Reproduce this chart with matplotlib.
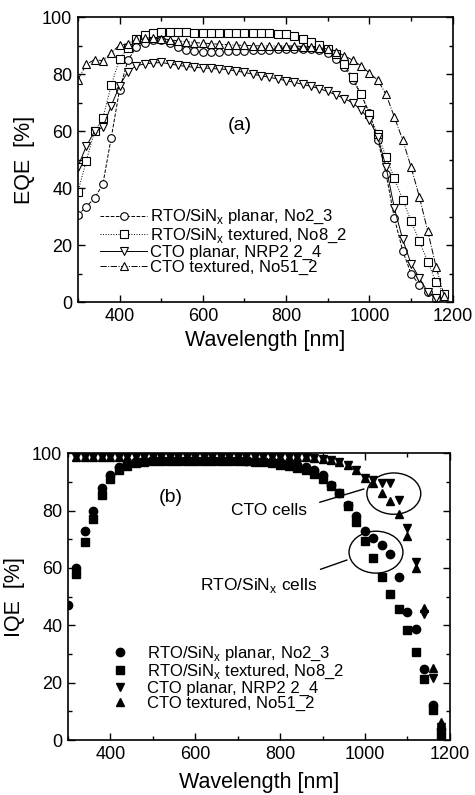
import numpy as np
import matplotlib
matplotlib.use("Agg")
import matplotlib.pyplot as plt
from matplotlib.patches import Ellipse
from matplotlib.ticker import MultipleLocator

plt.rcParams['font.family'] = ['Liberation Sans', 'DejaVu Sans']
plt.rcParams['mathtext.fontset'] = 'custom'
plt.rcParams['mathtext.rm'] = 'Liberation Sans'

# ---- data: wavelength grid [nm] ----
wl = np.arange(300, 1200, 20)   # 300 ... 1180

# (a) EQE [%]
eqe_rto_planar = [30.5, 33.5, 36.5, 41.5, 57.7, 74.6, 85, 89.5, 91, 92, 92, 91, 89.5, 88.5, 88.2,
                  88, 88, 88, 88.2, 88.3, 88.4, 88.5, 88.6, 88.7, 88.8, 88.9, 89, 89, 88.8, 88.5,
                  87.5, 85.5, 82.5, 78, 73, 66.5, 57, 45, 29.5, 18, 10, 6, 3.5, 1, np.nan]
eqe_rto_text = [38.7, 49.6, 60, 64.7, 76.2, 85.4, 89.3, 92.3, 93.9, 94.6, 95, 95, 95, 94.8, 94.7,
                94.6, 94.6, 94.6, 94.6, 94.6, 94.6, 94.5, 94.5, 94.4, 94.3, 94.2, 93.5, 92.5, 91.5, 90.5,
                89, 87, 83.5, 79, 73, 66, 59, 51, 43.5, 36, 28.5, 21.5, 14.2, 7, 3]
eqe_cto_planar = [47.6, 54.7, 60, 61.5, 69, 76, 81, 83, 83.7, 84, 84.2, 83.7, 83.2, 82.8, 82.5,
                  82.3, 82.1, 81.9, 81.7, 81.2, 80.7, 80.1, 79.5, 79, 78.4, 77.8, 77.2, 76.5, 75.8, 75,
                  74, 72.8, 71.5, 70, 67.5, 64, 58, 47.5, 33, 22, 13.5, 8.5, 3.5, 1.5, np.nan]
eqe_cto_text = [78.2, 83.5, 85.2, 84.8, 87.6, 90.3, 90.8, 92.3, 92.8, 92.8, 92.6, 92.2, 91.8, 91.5, 91.2,
                91, 90.8, 90.6, 90.4, 90.3, 90.2, 90.1, 90, 90, 90, 90, 90, 89.8, 89.6, 89.3,
                89, 88, 86.5, 85, 83, 80.5, 78, 73, 65, 57, 47.5, 37, 25, 12.5, 2]

# (b) IQE [%]
iqe_rto_planar = [47, 60, 73, 80, 88, 92.5, 95, 96.5, 97, 97.3, 97.5, 97.6, 97.6, 97.6, 97.6,
                  97.6, 97.6, 97.6, 97.6, 97.5, 97.5, 97.4, 97.3, 97.2, 97, 96.8, 96.5, 96, 95.3, 94.3,
                  92.3, 89, 86, 82, 78, 73, 70.4, 68, 64.8, 57, 44.6, 38.7, 24.7, 12.2, 4]
iqe_rto_text = [np.nan, 58, 69, 77, 85.5, 91, 94, 95.5, 96.5, 97, 97.3, 97.4, 97.4, 97.4, 97.4,
                97.4, 97.4, 97.4, 97.3, 97.3, 97.2, 97.1, 97, 96.8, 96.5, 96, 95.4, 94.8, 94, 92.8,
                91, 88.5, 86, 81.5, 76, 69.3, 63.4, 57, 51, 45.6, 38.3, 30.7, 21.3, 10.5, 1.7]
iqe_cto_planar = [np.nan, 98.8, 98.8, 98.8, 98.8, 98.8, 98.6, 98.8, 98.8, 98.8, 98.8, 98.8, 98.8, 98.8, 98.8,
                  98.8, 98.8, 98.8, 98.8, 98.8, 98.8, 98.8, 98.8, 98.8, 98.8, 98.8, 98.7, 98.6, 98.5, 98.3,
                  98, 97.6, 97, 95.8, 94, 91.3, 90.5, 89.5, 89.5, 83.6, 74, 62, 44, 21.5, 4.5]
iqe_cto_text = [np.nan, 98.8, 98.8, 98.8, 98.8, 98.8, 98.8, 98.8, 98.8, 98.8, 98.8, 98.8, 98.8, 98.8, 98.8,
                98.8, 98.8, 98.8, 98.8, 98.8, 98.8, 98.8, 98.8, 98.8, 98.8, 98.8, 98.7, 98.6, 98.5, 98.3,
                98, 97.6, 97, 95.8, 94, 91.3, 89.5, 86, 83.3, 78.7, 71, 60, 46, 25, 6.3]

labels = ["RTO/SiN$_\\mathregular{x}$ planar, No2_3",
          "RTO/SiN$_\\mathregular{x}$ textured, No8_2",
          "CTO planar, NRP2 2_4",
          "CTO textured, No51_2"]

TICK_FS = 13
LABEL_FS = 15.5
LEG_FS = 12


def style_axes(ax, ylabel, xpad):
    ax.set_xlim(300, 1200)
    ax.set_ylim(0, 100)
    ax.xaxis.set_major_locator(MultipleLocator(200))
    ax.xaxis.set_minor_locator(MultipleLocator(100))
    ax.yaxis.set_major_locator(MultipleLocator(20))
    ax.yaxis.set_minor_locator(MultipleLocator(10))
    ax.tick_params(which='both', direction='in', top=True, right=True,
                   labelsize=TICK_FS, width=1.0)
    ax.tick_params(which='major', length=5, pad=4)
    ax.tick_params(which='minor', length=3)
    for s in ax.spines.values():
        s.set_linewidth(1.2)
    ax.set_xlabel("Wavelength [nm]", fontsize=LABEL_FS, labelpad=xpad)
    ax.set_ylabel(ylabel, fontsize=LABEL_FS, labelpad=5)


fig = plt.figure(figsize=(4.75, 7.95), dpi=100)

# ---- (a) EQE ----
ax1 = fig.add_axes([0.164, 0.620, 0.789, 0.358])
eqe_series = [eqe_rto_planar, eqe_rto_text, eqe_cto_planar, eqe_cto_text]
markers_a = ['o', 's', 'v', '^']
lines_a = ['--', ':', '-', '-.']
for vals, m, ls, lab in zip(eqe_series, markers_a, lines_a, labels):
    ax1.plot(wl, vals, marker=m, linestyle=ls, color='black', lw=0.7,
             markersize=5.5, markerfacecolor='white', markeredgecolor='black',
             markeredgewidth=0.8, label=lab)
style_axes(ax1, "EQE  [%]", 3.5)
ax1.text(690, 62, "(a)", fontsize=14, ha='center', va='center')
ax1.legend(loc='lower left', bbox_to_anchor=(0.06, 0.095), frameon=False,
           fontsize=LEG_FS, handlelength=2.8, handletextpad=0.15,
           labelspacing=0.0, borderpad=0, borderaxespad=0)

# ---- (b) IQE ----
ax2 = fig.add_axes([0.143, 0.069, 0.804, 0.361])
iqe_series = [iqe_rto_planar, iqe_rto_text, iqe_cto_planar, iqe_cto_text]
markers_b = ['o', 's', 'v', '^']
for vals, m, lab in zip(iqe_series, markers_b, labels):
    ax2.plot(wl, vals, marker=m, linestyle='none', color='black',
             markersize=6, label=lab)
style_axes(ax2, "IQE  [%]", 6.5)
ax2.text(543, 84.6, "(b)", fontsize=14, ha='center', va='center')
ax2.text(684, 80, "CTO cells", fontsize=12.5, ha='left', va='center')
ax2.text(611, 54, "RTO/SiN$_\\mathregular{x}$ cells", fontsize=12.5, ha='left', va='center')
ax2.add_patch(Ellipse((1068, 85.9), 127, 14.4, fill=False, lw=1.0, color='black'))
ax2.add_patch(Ellipse((1026, 65.5), 127, 14.6, fill=False, lw=1.0, color='black'))
ax2.annotate("", xy=(1004, 87.8), xytext=(887, 82.6),
             arrowprops=dict(arrowstyle='-', lw=1.0, color='black'))
ax2.annotate("", xy=(964, 63.1), xytext=(889, 59.2),
             arrowprops=dict(arrowstyle='-', lw=1.0, color='black'))
ax2.legend(loc='lower left', bbox_to_anchor=(0.115, 0.10), frameon=False,
           fontsize=LEG_FS, handlelength=1.0, handletextpad=1.1, numpoints=1,
           labelspacing=0.0, borderpad=0, borderaxespad=0)

fig.savefig("out.png", dpi=100)
